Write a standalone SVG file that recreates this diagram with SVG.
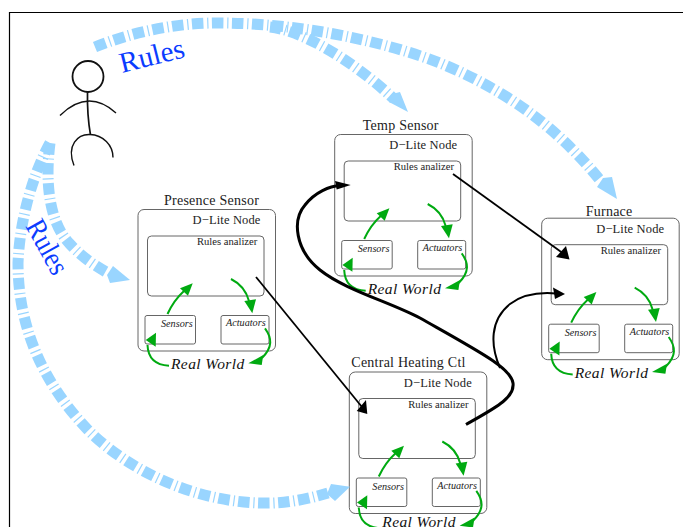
<svg xmlns="http://www.w3.org/2000/svg" width="684" height="527" viewBox="0 0 684 527">
<defs><style>
.box{fill:none;stroke:#666;stroke-width:1}
.serif{font-family:"Liberation Serif",serif;fill:#222}
.title{font-size:14px;letter-spacing:.25px}
.dl{font-size:12.5px;letter-spacing:.15px}
.ra{font-size:10.6px}
.sa{font-size:10.2px;font-style:italic}
.rw{font-size:15.5px;font-style:italic;fill:#111;letter-spacing:.4px}
.g{fill:none;stroke:#00aa11;stroke-width:2}
.gh{fill:#00aa11}
.rules{fill:none;stroke:#99d5ff;stroke-width:11;stroke-dasharray:11.5 3.8 1.2 3.5}
.rh{fill:#99d5ff}
.rt{font-family:"Liberation Serif",serif;font-size:29px;fill:#0b3cff}
.k{fill:none;stroke:#000}
.fig{fill:none;stroke:#111}
</style></defs>
<rect width="684" height="527" fill="#fff"/>
<path d="M9.5 527V12.5H683" fill="none" stroke="#000" stroke-width="1.2"/>
<g id="person">
<circle class="fig" cx="88" cy="76.500" r="15.500" stroke-width="1.800"/>
<path class="fig" stroke-width="1.700" d="M87.500 92Q87 115 90.500 135"/>
<path class="fig" stroke-width="1.400" d="M60 115.500Q88 88 116 113"/>
<path class="fig" stroke-width="1.400" d="M74 165.500C66 145 78 134 90 134.500C103 135 113 145 113 157.500"/>
</g>
<g id="presence-sensor"><text class="serif title" x="164" y="205">Presence Sensor</text>
<rect class="box" x="138" y="209.500" width="137.500" height="141.500" rx="6"/>
<text class="serif dl" x="192.500" y="224">D−Lite Node</text>
<rect class="box" x="147.500" y="236" width="116.500" height="60" rx="4"/>
<text class="serif ra" x="197" y="245">Rules analizer</text>
<rect class="box" x="145" y="315.500" width="50.500" height="28.500" rx="2"/>
<text class="serif sa" x="161" y="327">Sensors</text>
<rect class="box" x="221" y="315.500" width="48" height="28.500" rx="2"/>
<text class="serif sa" x="226" y="326">Actuators</text>
<text class="serif rw" x="171" y="369">Real World</text></g>
<g id="temp-sensor" transform="translate(196.700 -75)"><text class="serif title" x="166" y="205">Temp Sensor</text>
<rect class="box" x="138" y="209.500" width="137.500" height="141.500" rx="6"/>
<text class="serif dl" x="192.500" y="224">D−Lite Node</text>
<rect class="box" x="147.500" y="236" width="116.500" height="60" rx="4"/>
<text class="serif ra" x="197" y="245">Rules analizer</text>
<rect class="box" x="145" y="315.500" width="50.500" height="28.500" rx="2"/>
<text class="serif sa" x="161" y="327">Sensors</text>
<rect class="box" x="221" y="315.500" width="48" height="28.500" rx="2"/>
<text class="serif sa" x="226" y="326">Actuators</text>
<text class="serif rw" x="171" y="369">Real World</text></g>
<g id="furnace" transform="translate(403.700 8.700)"><text class="serif title" x="182" y="207">Furnace</text>
<rect class="box" x="138" y="209.500" width="137.500" height="141.500" rx="6"/>
<text class="serif dl" x="192.500" y="224">D−Lite Node</text>
<rect class="box" x="147.500" y="236" width="116.500" height="60" rx="4"/>
<text class="serif ra" x="197" y="245">Rules analizer</text>
<rect class="box" x="145" y="315.500" width="50.500" height="28.500" rx="2"/>
<text class="serif sa" x="161" y="327">Sensors</text>
<rect class="box" x="221" y="315.500" width="48" height="28.500" rx="2"/>
<text class="serif sa" x="226" y="326">Actuators</text>
<text class="serif rw" x="171" y="369">Real World</text></g>
<g id="central-heating" transform="translate(211.300 162.500)"><text class="serif title" x="140" y="204">Central Heating Ctl</text>
<rect class="box" x="138" y="209.500" width="137.500" height="141.500" rx="6"/>
<text class="serif dl" x="192.500" y="224">D−Lite Node</text>
<rect class="box" x="147.500" y="236" width="116.500" height="60" rx="4"/>
<text class="serif ra" x="197" y="245">Rules analizer</text>
<rect class="box" x="145" y="315.500" width="50.500" height="28.500" rx="2"/>
<text class="serif sa" x="161" y="327">Sensors</text>
<rect class="box" x="221" y="315.500" width="48" height="28.500" rx="2"/>
<text class="serif sa" x="226" y="326">Actuators</text>
<text class="serif rw" x="171" y="364.500">Real World</text></g>
<g id="connectors">
<g id="green-loop-presence">
<path class="g" d="M167.500 314Q174 300 184 291"/><polygon class="gh" points="192.700,283.300 180,288.300 188,295.700"/>
<path class="g" d="M231 279Q245 286 249 301"/><polygon class="gh" points="244.300,301 256,299.300 252.300,313.300"/>
<path class="g" d="M265 328.300C272 338 273 347 262 358"/><polygon class="gh" points="248.300,363.300 263.300,355 261.700,365"/>
<path class="g" d="M169 365.700C155 365 148 358 147.500 345"/><polygon class="gh" points="156,332.700 145.700,340 155.700,346.700"/>
</g>
<g id="green-loop-temp" transform="translate(196.700 -75)">
<path class="g" d="M167.500 314Q174 300 184 291"/><polygon class="gh" points="192.700,283.300 180,288.300 188,295.700"/>
<path class="g" d="M231 279Q245 286 249 301"/><polygon class="gh" points="244.300,301 256,299.300 252.300,313.300"/>
<path class="g" d="M265 328.300C272 338 273 347 262 358"/><polygon class="gh" points="248.300,363.300 263.300,355 261.700,365"/>
<path class="g" d="M169 365.700C155 365 148 358 147.500 345"/><polygon class="gh" points="156,332.700 145.700,340 155.700,346.700"/>
</g>
<g id="green-loop-furnace" transform="translate(403.700 8.700)">
<path class="g" d="M167.500 314Q174 300 184 291"/><polygon class="gh" points="192.700,283.300 180,288.300 188,295.700"/>
<path class="g" d="M231 279Q245 286 249 301"/><polygon class="gh" points="244.300,301 256,299.300 252.300,313.300"/>
<path class="g" d="M265 328.300C272 338 273 347 262 358"/><polygon class="gh" points="248.300,363.300 263.300,355 261.700,365"/>
<path class="g" d="M169 365.700C155 365 148 358 147.500 345"/><polygon class="gh" points="156,332.700 145.700,340 155.700,346.700"/>
</g>
<g id="green-loop-central" transform="translate(211.300 162.500)">
<path class="g" d="M167.500 314Q174 300 184 291"/><polygon class="gh" points="192.700,283.300 180,288.300 188,295.700"/>
<path class="g" d="M231 279Q245 286 249 301"/><polygon class="gh" points="244.300,301 256,299.300 252.300,313.300"/>
<path class="g" d="M265 328.300C272 338 273 347 262 358"/><polygon class="gh" points="248.300,363.300 263.300,355 261.700,365"/>
<path class="g" d="M169 365.700C155 365 148 358 147.500 345"/><polygon class="gh" points="156,332.700 145.700,340 155.700,346.700"/>
</g>
<path class="rules" d="M95 47C130 33 175 22 225 23C300 24 380 40 440 63C505 90 555 125 600 180"/>
<polygon class="rh" points="617,199 597,187 603,178 612,177"/>
<path class="rules" d="M270 27C300 30 350 58 394 99"/>
<polygon class="rh" points="408,112 389,102 392,94 400,92"/>
<path class="rules" d="M50 143C35 170 20 215 18 263C18 330 45 385 88 430C130 472 200 505 273 503C295 502 315 497 328 493"/>
<polygon class="rh" points="350,486.700 331,484 327,494 335,501"/>
<path class="rules" d="M50 143C44 190 52 225 69 243C78 253 90 263 108 273"/>
<polygon class="rh" points="130,280 113,266 107,275 110,283"/>
<text class="rt" transform="translate(122 73) rotate(-14)">Rules</text>
<text class="rt" transform="translate(25 226) rotate(61) scale(.88 1)">Rules</text>
<path class="k" stroke-width="1.800" d="M256 277L362 407"/><polygon points="367.300,414 356.700,411 366,400"/>
<path class="k" stroke-width="1.800" d="M453 174L564 254"/><polygon points="569.500,259.500 556,257 566,246"/>
<path class="k" stroke-width="3" d="M466 424.500C495 408 515 398 513 383C511 368 480 352 420 318C390 302 345 290 320 270C295 250 292 220 305 205C315 192 330 186 340 185.500"/><polygon points="350.700,185 335,181 336.700,189.500"/>
<path class="k" stroke-width="2" d="M500 368C490 345 490 320 510 304C522 295 538 292 556 293.500"/><polygon points="565,294 553,287.500 555,299"/>
</g>
</svg>
